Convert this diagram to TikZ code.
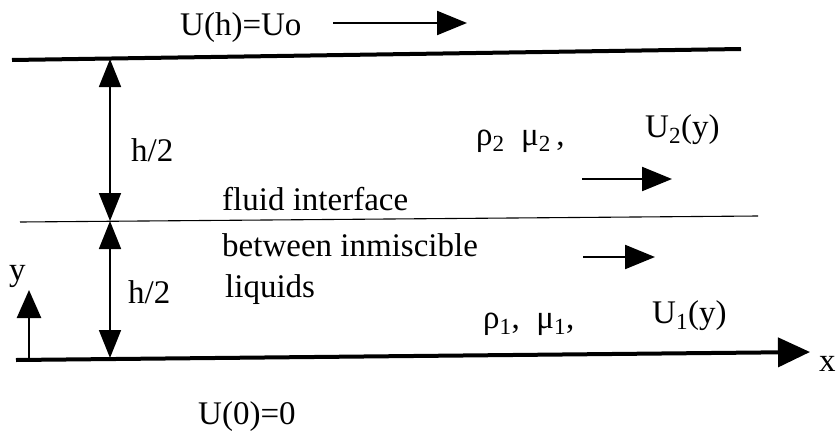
\documentclass[tikz,border=0pt]{standalone}
\usepackage{fontspec}
\setmainfont{Liberation Serif}
\usepackage{tikz}
\usetikzlibrary{arrows.meta, positioning, calc}

\begin{document}
\begin{tikzpicture}[
    x=1pt, y=-1pt,
    wall/.style={line width=4pt},
    interface/.style={line width=1.1pt},
    gap/.style={line width=1.6pt, {Triangle[length=28pt, width=22pt]}-{Triangle[length=28pt, width=22pt]}},
    flow/.style={line width=2.2pt, -{Triangle[length=30pt, width=24pt]}},
    axis/.style={line width=2.6pt, -{Triangle[length=28pt, width=24pt]}},
    txt/.style={font=\fontsize{33}{38}\selectfont, inner sep=0pt, anchor=base west}
]
    \useasboundingbox (0,0) rectangle (838,434);

    % Walls and interface
    \coordinate (topL) at (12,60);
    \coordinate (topR) at (741,49);
    \coordinate (midL) at (20,222);
    \coordinate (midR) at (758,216);
    \coordinate (botL) at (16,360);
    \coordinate (botR) at (810,352);
    \draw[wall] (topL) -- (topR);
    \draw[interface] (midL) -- (midR);
    \draw[wall, -{Triangle[length=32pt, width=29pt]}] (botL) -- (botR);
    \node[txt] (xlab) at (819,371) {x};

    % Gap arrows
    \coordinate (gapT) at (110,59);
    \coordinate (gapM) at (110,221);
    \coordinate (gapB) at (110,358);
    \draw[gap] (gapT) -- (gapM);
    \draw[gap] (gapM) -- (gapB);
    \node[txt] (hup) at (131,161) {h/2};
    \node[txt] (hlo) at (128,303) {h/2};

    % y axis
    \coordinate (yB) at (29,359);
    \coordinate (yT) at (29,290);
    \draw[axis] (yB) -- (yT);
    \node[txt] (ylab) at (9,280) {y};

    % Upper wall velocity
    \node[txt] (uh) at (180,35) {U(h)=Uo};
    \coordinate (uhA) at (333,23);
    \coordinate (uhB) at (467,23);
    \draw[flow] (uhA) -- (uhB);

    % Texts
    \node[txt] (fluid) at (222,210) {fluid interface};
    \node[txt] (betw) at (222,256) {between inmiscible};
    \node[txt] (liq) at (225,297) {liquids};
    \node[txt] (prop2) at (476,145) {ρ\textsubscript{2}\enspace μ\textsubscript{2}\,,};
    \node[txt] (u2) at (645,137) {U\textsubscript{2}(y)};
    \node[txt] (prop1) at (483,328) {ρ\textsubscript{1},\enspace μ\textsubscript{1},};
    \node[txt] (u1) at (652,323) {U\textsubscript{1}(y)};
    \node[txt] (u0) at (198,424) {U(0)=0};

    % Layer velocities
    \coordinate (u2A) at (582,179);
    \coordinate (u2B) at (672,179);
    \draw[flow] (u2A) -- (u2B);
    \coordinate (u1A) at (583,257);
    \coordinate (u1B) at (655,257);
    \draw[flow] (u1A) -- (u1B);
\end{tikzpicture}
\end{document}
